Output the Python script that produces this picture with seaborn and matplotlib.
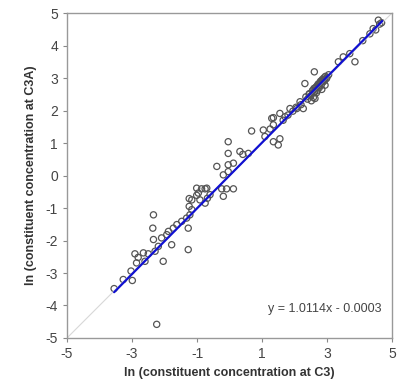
import numpy as np
import pandas as pd
import seaborn as sns
import matplotlib
matplotlib.use('Agg')
import matplotlib.pyplot as plt

# ln concentrations
c3 = [-3.55, -3.27, -2.99, -3.03, -2.86, -2.81, -2.91, -2.65, -2.50, -2.60,
      -2.34, -2.36, -2.34, -2.19, -2.29, -2.04, -1.78, -1.93, -2.09, -1.88,
      -1.73, -1.62, -1.47, -1.27, -1.27, -1.32, -1.22, -1.24, -1.24, -1.01,
      -1.01, -0.86, -0.70, -0.91, -0.75, -0.68, -2.24,
      -1.16, -1.16, -0.96, -0.75, -0.60, -0.24, -0.09, 0.12, -0.19, -0.19,
      -0.39, -0.04, -0.04, 0.12, -0.04, -0.04, 0.32, 0.41, 0.58, 0.68,
      1.04, 1.09, 1.35, 1.50, 1.55, 1.35, 1.55, 1.71, 1.86, 2.07, 1.35, 1.25,
      1.30, 2.17, 2.27, 2.32, 2.63, 2.61, 2.94, 3.35, 3.50, 3.86,
      4.32, 4.42, 4.58, 4.68, 4.10, 3.70,
      2.40, 2.45, 2.50, 2.55, 2.60, 2.65, 2.70, 2.72, 2.75, 2.78,
      2.80, 2.82, 2.85, 2.88, 2.90, 2.92, 2.95, 2.98, 3.00, 3.05,
      2.52, 2.68, 2.84, 2.58, 2.76,
      2.46, 2.56, 2.62, 2.66, 2.74, 2.86, 2.93, 2.70, 2.80, 2.60,
      1.95, 2.05, 2.20, 1.80, 1.65, 2.35, 4.50, 4.62]
c3a = [-3.48, -3.20, -3.23, -2.94, -2.69, -2.52, -2.41, -2.38, -2.41, -2.64,
       -1.21, -1.62, -1.97, -2.18, -2.33, -2.64, -2.13, -1.82, -1.92, -1.72,
       -1.62, -1.51, -1.41, -1.62, -2.28, -1.31, -1.21, -0.95, -0.71, -0.61,
       -0.39, -0.41, -0.39, -0.75, -0.85, -0.70, -4.58,
       -1.05, -0.75, -0.54, -0.41, -0.59, -0.41, -0.41, -0.41, -0.64, 0.02,
       0.28, 0.12, 0.33, 0.38, 0.68, 1.04, 0.74, 0.65, 0.68, 1.37,
       1.40, 1.20, 1.04, 0.94, 1.13, 1.78, 1.91, 1.81, 2.06, 2.06, 1.56, 1.43,
       1.76, 2.27, 2.06, 2.83, 2.37, 3.19, 2.78, 3.50, 3.65, 3.50,
       4.36, 4.52, 4.78, 4.70, 4.15, 3.75,
       2.35, 2.50, 2.45, 2.60, 2.55, 2.70, 2.62, 2.80, 2.75, 2.85,
       2.90, 2.78, 2.95, 2.88, 3.00, 2.92, 3.05, 2.98, 3.02, 3.10,
       2.30, 2.55, 2.65, 2.40, 2.70,
       2.52, 2.62, 2.58, 2.72, 2.82, 2.92, 2.95, 2.76, 2.86, 2.68,
       1.98, 2.10, 2.18, 1.86, 1.70, 2.42, 4.48, 4.66]

slope, intercept = 1.0114, -0.0003
fit_x = [-3.55, 4.70]
one_to_one = [-5, 5]

df = pd.DataFrame({'c3': c3, 'c3a': c3a})
fit = pd.DataFrame({'x': fit_x, 'y': [slope * v + intercept for v in fit_x]})
ref = pd.DataFrame({'x': one_to_one, 'y': one_to_one})

sns.set_style('white')
plt.rcParams['font.family'] = ['Liberation Sans', 'DejaVu Sans']
plt.rcParams['axes.unicode_minus'] = False

fig = plt.figure(figsize=(4, 3.83), dpi=100)
ax = fig.add_axes([0.1675, 0.1175, 0.8125, 0.8485])

sns.lineplot(data=ref, x='x', y='y', color='#d8d8d8', linewidth=0.8, ax=ax)
sns.scatterplot(data=df, x='c3', y='c3a', facecolor='none', edgecolor='#555555',
                s=20, linewidth=0.9, ax=ax)
sns.lineplot(data=fit, x='x', y='y', color='#1010d0', linewidth=1.6, ax=ax)

ax.set_xlim(-5, 5); ax.set_ylim(-5, 5)
ax.set_xticks([-5, -3, -1, 1, 3, 5])
ax.set_yticks(range(-5, 6))
ax.tick_params(direction='out', length=3, width=0.8, colors='#888888',
               labelcolor='#444444', labelsize=10, bottom=True, left=True)
for s in ax.spines.values():
    s.set_color('#999999'); s.set_linewidth(1.0)

ax.set_xlabel('ln (constituent concentration at C3)', fontsize=9,
              fontweight='bold', color='#333333', labelpad=4)
ax.set_ylabel('ln (constituent concentration at C3A)', fontsize=9,
              fontweight='bold', color='#333333', labelpad=6)
ax.text(2.93, -4.1, 'y = 1.0114x - 0.0003', fontsize=9, color='#444444',
        ha='center', va='center')

plt.savefig('out.png', dpi=100)
